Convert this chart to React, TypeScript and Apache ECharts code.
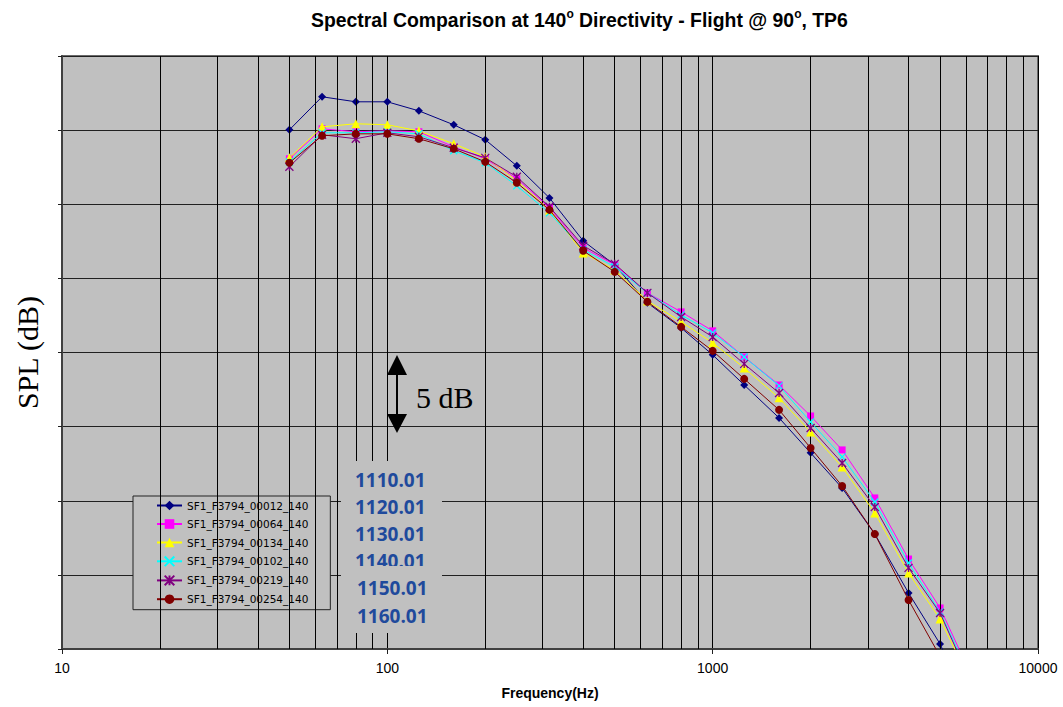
import React, { useEffect, useRef } from "react";
import * as echarts from "echarts";

const freqs = [50, 63, 80, 100, 125, 160, 200, 250, 315, 400, 500, 630, 800, 1000, 1250, 1600, 2000, 2500, 3150, 4000, 5000, 6300];

const s00012 = [35.02, 37.25, 36.91, 36.91, 36.3, 35.36, 34.35, 32.59, 30.43, 27.53, 25.91, 23.35, 21.66, 19.84, 17.81, 15.59, 13.23, 10.86, 7.76, 3.78, 0.34, -4.5];
const s00064 = [33.07, 35.09, 34.89, 34.95, 34.89, 33.87, 33.07, 31.72, 29.76, 27.06, 25.91, 24.02, 22.74, 21.46, 19.7, 17.81, 15.72, 13.43, 10.19, 6.07, 2.77, -2.0];
const s00134 = [33.13, 35.22, 35.43, 35.36, 34.95, 34.08, 33.2, 31.58, 29.62, 26.72, 25.57, 23.48, 22.07, 20.65, 18.96, 16.94, 14.64, 12.28, 9.18, 5.13, 2.02, -2.5];
const s00102 = [32.86, 34.82, 34.82, 34.89, 34.75, 33.61, 32.8, 31.24, 29.42, 26.93, 25.78, 24.02, 22.54, 21.32, 19.7, 17.75, 15.32, 12.96, 9.92, 5.8, 2.5, -2.2];
const s00219 = [32.53, 34.69, 34.42, 34.82, 34.55, 33.81, 33.13, 31.85, 29.83, 27.2, 25.98, 24.02, 22.4, 21.05, 19.23, 17.27, 14.91, 12.55, 9.58, 5.47, 2.43, -2.5];
const s00254 = [32.8, 34.62, 34.75, 34.75, 34.42, 33.74, 32.86, 31.45, 29.62, 26.86, 25.44, 23.42, 21.73, 20.11, 18.22, 16.13, 13.56, 11.0, 7.76, 3.31, -0.5, -5.5];

const seriesNames = [
  "SF1_F3794_00012_140",
  "SF1_F3794_00064_140",
  "SF1_F3794_00134_140",
  "SF1_F3794_00102_140",
  "SF1_F3794_00219_140",
  "SF1_F3794_00254_140",
];
const seriesValues = [s00012, s00064, s00134, s00102, s00219, s00254];
const seriesColors = ["#000080", "#ff00ff", "#ffff00", "#00ffff", "#800080", "#800000"];

const minorFreqs = [20, 30, 40, 50, 60, 70, 80, 90, 200, 300, 400, 500, 600, 700, 800, 900, 2000, 3000, 4000, 5000, 6000, 7000, 8000, 9000];
const xTickLabels = ["10", "100", "1000", "10000"];
const boxLabels = ["1110.01", "1120.01", "1130.01", "1140.01", "1150.01", "1160.01"];

const symbols = [
  { symbol: "diamond", size: 8, border: 0 },
  { symbol: "rect", size: 7, border: 0 },
  { symbol: "triangle", size: 9, border: 0 },
  { symbol: "path://M0,0L10,10M10,0L0,10", size: 7, border: 1.3 },
  { symbol: "path://M0,0L10,10M10,0L0,10M5,0L5,10", size: 8, border: 1.3 },
  { symbol: "circle", size: 8, border: 0 },
];

export default function App() {
  const ref = useRef<HTMLDivElement>(null);
  useEffect(() => {
    if (!ref.current) return;
    const chart = echarts.init(ref.current, null, { renderer: "svg" });
    const gridLeft = 62, gridTop = 56, gridW = 976, gridH = 593;

    const series: any[] = [
      {
        type: "line",
        name: "minorgrid",
        data: [],
        z: 1,
        silent: true,
        markLine: {
          silent: true,
          symbol: ["none", "none"],
          label: { show: false },
          lineStyle: { color: "#000", width: 1, type: "solid" },
          emphasis: { disabled: true },
          data: minorFreqs.map((v) => ({ xAxis: v })),
        },
      },
    ];
    seriesNames.forEach((name, i) => {
      const sym = symbols[i];
      series.push({
        type: "line",
        name,
        data: freqs.map((f, j) => [f, seriesValues[i][j]]),
        symbol: sym.symbol,
        symbolSize: sym.size,
        showAllSymbol: true,
        clip: true,
        z: 3 + i,
        lineStyle: { color: seriesColors[i], width: 1 },
        itemStyle: { color: seriesColors[i], borderColor: seriesColors[i], borderWidth: sym.border },
        emphasis: { disabled: true },
      });
    });

    const textLeft = 355;
    const boxYs = [480, 507, 534, 561, 588, 616];
    const boxTexts: any[] = boxLabels.map((t, i) => ({
      type: "text",
      x: textLeft + (i >= 4 ? 2 : 0),
      y: boxYs[i],
      z: i >= 4 ? 120 : 105,
      style: {
        text: t,
        fill: "#1f4a9c",
        font: "bold 19px 'Open Sans'",
        verticalAlign: "middle",
      },
    }));

    chart.setOption({
      animation: false,
      backgroundColor: "#ffffff",
      title: {
        left: 306,
        top: 3,
        text: "{b|Spectral Comparison at 140}{s|o}{b| Directivity - Flight @ 90}{s|o}{b|, TP6}",
        textStyle: {
          rich: {
            b: { fontSize: 19.4, fontWeight: "bold", fontFamily: "Liberation Sans", color: "#000", lineHeight: 24 },
            s: { fontSize: 12, fontWeight: "bold", fontFamily: "Liberation Sans", color: "#000", lineHeight: 10, verticalAlign: "top" },
          },
        },
      },
      grid: {
        left: gridLeft,
        top: gridTop,
        width: gridW,
        height: gridH,
        containLabel: false,
        outerBoundsMode: "none",
        show: true,
        backgroundColor: "#c0c0c0",
        borderColor: "#6a6a6a",
        borderWidth: 2,
      },
      legend: {
        data: seriesNames,
        orient: "vertical",
        left: 133,
        top: 496,
        padding: [4, 22, 5, 23],
        itemGap: 7.5,
        itemWidth: 25,
        itemHeight: 12,
        backgroundColor: "#c0c0c0",
        borderColor: "#222",
        borderWidth: 1,
        borderRadius: 0,
        textStyle: { fontFamily: "DejaVu Sans", fontSize: 10.5, color: "#000" },
      },
      xAxis: {
        type: "log",
        logBase: 10,
        min: 10,
        max: 10000,
        name: "Frequency(Hz)",
        nameLocation: "middle",
        nameGap: 37,
        nameTextStyle: { fontFamily: "Liberation Sans", fontWeight: "bold", fontSize: 14, color: "#000" },
        axisLine: { show: true, lineStyle: { color: "#404040", width: 2 } },
        axisTick: { show: true, length: 5, lineStyle: { color: "#202020", width: 1 } },
        axisLabel: {
          fontFamily: "Liberation Sans",
          fontSize: 14,
          color: "#000",
          margin: 12,
          formatter: (v: number) => {
            const idx = Math.round(Math.log10(v)) - 1;
            return xTickLabels[idx] ?? String(v);
          },
        },
        splitLine: { show: true, lineStyle: { color: "#000", width: 1 } },
      },
      yAxis: {
        type: "value",
        min: 0,
        max: 40,
        interval: 5,
        name: "SPL (dB)",
        nameLocation: "middle",
        nameGap: 20,
        nameTextStyle: { fontFamily: "Liberation Serif", fontSize: 30, color: "#000" },
        axisLine: { show: true, lineStyle: { color: "#404040", width: 2 } },
        axisTick: { show: true, length: 4, lineStyle: { color: "#202020", width: 1 } },
        axisLabel: { show: false },
        splitLine: { show: true, lineStyle: { color: "#202020", width: 1 } },
      },
      series,
      graphic: [
        {
          type: "rect",
          z: 100,
          silent: true,
          shape: { x: 341, y: 461, width: 101, height: 172 },
          style: { fill: "#c0c0c0" },
        },
        ...boxTexts,
        {
          type: "rect",
          z: 110,
          silent: true,
          shape: { x: 341, y: 566, width: 101, height: 10 },
          style: { fill: "#c0c0c0" },
        },
        {
          type: "polygon",
          z: 100,
          shape: { points: [[387, 375], [407, 375], [397, 355]] },
          style: { fill: "#000" },
        },
        {
          type: "line",
          z: 100,
          shape: { x1: 397, y1: 372, x2: 397, y2: 416 },
          style: { stroke: "#000", lineWidth: 2 },
        },
        {
          type: "polygon",
          z: 100,
          shape: { points: [[387, 414], [407, 414], [397, 433]] },
          style: { fill: "#000" },
        },
        {
          type: "text",
          z: 100,
          x: 416,
          y: 397,
          style: {
            text: "5 dB",
            fill: "#000",
            font: "30px 'Liberation Serif'",
            verticalAlign: "middle",
          },
        },
      ],
    });
    return () => chart.dispose();
  }, []);
  return <div ref={ref} style={{ position: "absolute", left: 0, top: 0, width: 1063, height: 707 }} />;
}
